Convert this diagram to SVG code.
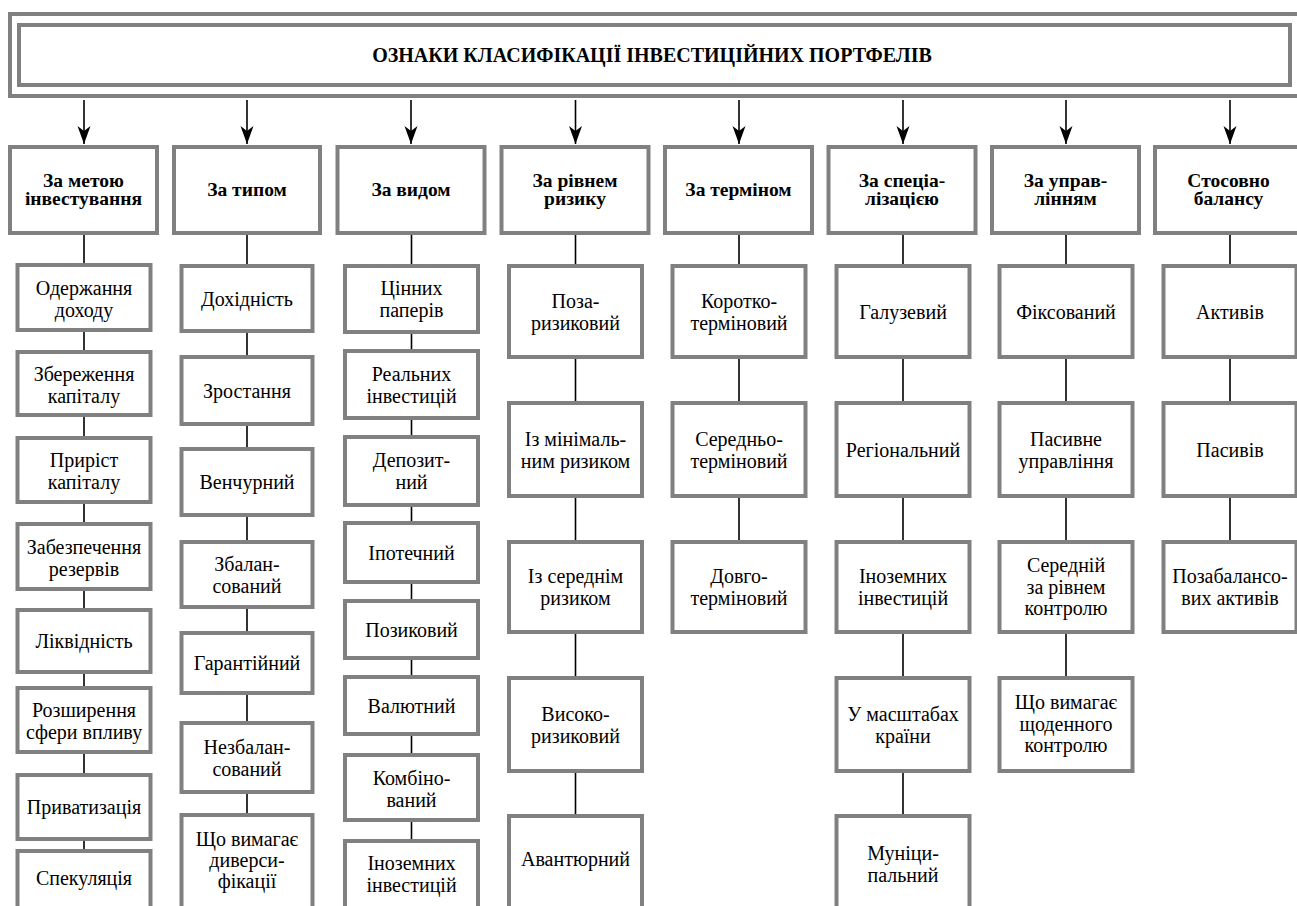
<svg xmlns="http://www.w3.org/2000/svg" width="1297" height="906" viewBox="0 0 1297 906">
<style>
.frame{fill:none;stroke:#808080;stroke-width:4}
.hb{fill:#fff;stroke:#808080;stroke-width:4}
.bx{fill:#fff;stroke:#808080;stroke-width:4}
.ht{font-weight:bold;font-size:19.5px;fill:#000;text-anchor:middle}
.tt{font-weight:bold;font-size:20px;fill:#000;text-anchor:middle}
.bt{font-size:20px;fill:#000;text-anchor:middle}
.ln{stroke:#000;stroke-width:1.6;fill:none}
.ar{stroke:#000;stroke-width:1.6;fill:none;marker-end:url(#ah)}
</style>
<defs>
<marker id="ah" markerUnits="userSpaceOnUse" markerWidth="20" markerHeight="14" refX="18" refY="6.5" orient="auto">
<path d="M0,0 L18,6.5 L0,13 L5,6.5 Z" fill="#000"/>
</marker>
</defs>
<rect width="1297" height="906" fill="#fff"/>
<g font-family="Liberation Serif, DejaVu Serif, serif">
<g id="title">
<rect class="frame" x="10" y="14" width="1294" height="82"/>
<rect class="frame" x="19" y="25" width="1271" height="60"/>
<text class="tt" x="652" y="62">ОЗНАКИ КЛАСИФІКАЦІЇ ІНВЕСТИЦІЙНИХ ПОРТФЕЛІВ</text>
</g>
<g id="connectors">
<line class="ar" x1="84" y1="100" x2="84" y2="144"/>
<line class="ar" x1="247" y1="100" x2="247" y2="144"/>
<line class="ar" x1="411" y1="100" x2="411" y2="144"/>
<line class="ar" x1="575.5" y1="100" x2="575.5" y2="144"/>
<line class="ar" x1="739" y1="100" x2="739" y2="144"/>
<line class="ar" x1="903" y1="100" x2="903" y2="144"/>
<line class="ar" x1="1066" y1="100" x2="1066" y2="144"/>
<line class="ar" x1="1230" y1="100" x2="1230" y2="144"/>
<path class="ln" d="M84,233 V265 M84,330 V352 M84,415 V438 M84,502 V524 M84,589 V610 M84,672 V688 M84,752 V775 M84,839 V851"/>
<path class="ln" d="M247,233 V266 M247,331 V357 M247,424 V449 M247,515 V542 M247,607 V633 M247,693 V723 M247,792 V815"/>
<path class="ln" d="M411.5,233 V266 M411.5,332 V351 M411.5,418 V437 M411.5,505 V523 M411.5,582 V601 M411.5,658 V677 M411.5,734 V755 M411.5,820 V841"/>
<path class="ln" d="M575.5,233 V266 M575.5,357 V403 M575.5,496 V542 M575.5,632 V678 M575.5,771 V816"/>
<path class="ln" d="M739,233 V266 M739,357 V403 M739,496 V542"/>
<path class="ln" d="M903,233 V266 M903,357 V403 M903,496 V542 M903,632 V678 M903,771 V816"/>
<path class="ln" d="M1066,233 V266 M1066,357 V403 M1066,496 V542 M1066,632 V678"/>
<path class="ln" d="M1230,233 V266 M1230,357 V403 M1230,496 V542"/>
</g>
<g id="h1"><rect class="hb" x="10" y="147" width="147" height="86"/><text class="ht" x="83.5" y="186.5">За метою</text><text class="ht" x="83.5" y="205">інвестування</text></g>
<g id="h2"><rect class="hb" x="174" y="147" width="146" height="86"/><text class="ht" x="247" y="196">За типом</text></g>
<g id="h3"><rect class="hb" x="337.5" y="147" width="147" height="86"/><text class="ht" x="411" y="196">За видом</text></g>
<g id="h4"><rect class="hb" x="501.5" y="147" width="147" height="86"/><text class="ht" x="575" y="186.5">За рівнем</text><text class="ht" x="575" y="205">ризику</text></g>
<g id="h5"><rect class="hb" x="665" y="147" width="147" height="86"/><text class="ht" x="738.5" y="196">За терміном</text></g>
<g id="h6"><rect class="hb" x="828.5" y="147" width="147" height="86"/><text class="ht" x="902" y="186.5">За спеціа-</text><text class="ht" x="902" y="205">лізацією</text></g>
<g id="h7"><rect class="hb" x="992" y="147" width="147" height="86"/><text class="ht" x="1065.5" y="186.5">За управ-</text><text class="ht" x="1065.5" y="205">лінням</text></g>
<g id="h8"><rect class="hb" x="1155" y="147" width="147" height="86"/><text class="ht" x="1228.5" y="186.5">Стосовно</text><text class="ht" x="1228.5" y="205">балансу</text></g>

<g id="c1n1"><rect class="bx" x="17.5" y="265" width="133" height="65"/><text class="bt" x="84" y="295">Одержання</text><text class="bt" x="84" y="317">доходу</text></g>
<g id="c1n2"><rect class="bx" x="17.5" y="352" width="133" height="63"/><text class="bt" x="84" y="381">Збереження</text><text class="bt" x="84" y="403">капіталу</text></g>
<g id="c1n3"><rect class="bx" x="17.5" y="438" width="133" height="64"/><text class="bt" x="84" y="467">Приріст</text><text class="bt" x="84" y="489">капіталу</text></g>
<g id="c1n4"><rect class="bx" x="17.5" y="524" width="133" height="65"/><text class="bt" x="84" y="553.5">Забезпечення</text><text class="bt" x="84" y="575.5">резервів</text></g>
<g id="c1n5"><rect class="bx" x="17.5" y="610" width="133" height="62"/><text class="bt" x="84" y="648">Ліквідність</text></g>
<g id="c1n6"><rect class="bx" x="17.5" y="688" width="133" height="64"/><text class="bt" x="84" y="717">Розширення</text><text class="bt" x="84" y="739">сфери впливу</text></g>
<g id="c1n7"><rect class="bx" x="17.5" y="775" width="133" height="64"/><text class="bt" x="84" y="814">Приватизація</text></g>
<g id="c1n8"><rect class="bx" x="17.5" y="851" width="133" height="70"/><text class="bt" x="84" y="885">Спекуляція</text></g>

<g id="c2n1"><rect class="bx" x="181.5" y="266" width="131" height="65"/><text class="bt" x="247" y="305.5">Дохідність</text></g>
<g id="c2n2"><rect class="bx" x="181.5" y="357" width="131" height="67"/><text class="bt" x="247" y="397.5">Зростання</text></g>
<g id="c2n3"><rect class="bx" x="181.5" y="449" width="131" height="66"/><text class="bt" x="247" y="489">Венчурний</text></g>
<g id="c2n4"><rect class="bx" x="181.5" y="542" width="131" height="65"/><text class="bt" x="247" y="570.5">Збалан-</text><text class="bt" x="247" y="592.5">сований</text></g>
<g id="c2n5"><rect class="bx" x="181.5" y="633" width="131" height="60"/><text class="bt" x="247" y="670">Гарантійний</text></g>
<g id="c2n6"><rect class="bx" x="181.5" y="723" width="131" height="69"/><text class="bt" x="247" y="753.5">Незбалан-</text><text class="bt" x="247" y="775.5">сований</text></g>
<g id="c2n7"><rect class="bx" x="181.5" y="815" width="131" height="100"/><text class="bt" x="247" y="846">Що вимагає</text><text class="bt" x="247" y="867">диверси-</text><text class="bt" x="247" y="888">фікації</text></g>

<g id="c3n1"><rect class="bx" x="345" y="266" width="133" height="66"/><text class="bt" x="411.5" y="295">Цінних</text><text class="bt" x="411.5" y="317">паперів</text></g>
<g id="c3n2"><rect class="bx" x="345" y="351" width="133" height="67"/><text class="bt" x="411.5" y="380.5">Реальних</text><text class="bt" x="411.5" y="402.5">інвестицій</text></g>
<g id="c3n3"><rect class="bx" x="345" y="437" width="133" height="68"/><text class="bt" x="411.5" y="467">Депозит-</text><text class="bt" x="411.5" y="489">ний</text></g>
<g id="c3n4"><rect class="bx" x="345" y="523" width="133" height="59"/><text class="bt" x="411.5" y="559.5">Іпотечний</text></g>
<g id="c3n5"><rect class="bx" x="345" y="601" width="133" height="57"/><text class="bt" x="411.5" y="636.5">Позиковий</text></g>
<g id="c3n6"><rect class="bx" x="345" y="677" width="133" height="57"/><text class="bt" x="411.5" y="712.5">Валютний</text></g>
<g id="c3n7"><rect class="bx" x="345" y="755" width="133" height="65"/><text class="bt" x="411.5" y="784.5">Комбіно-</text><text class="bt" x="411.5" y="806.5">ваний</text></g>
<g id="c3n8"><rect class="bx" x="345" y="841" width="133" height="75"/><text class="bt" x="411.5" y="870">Іноземних</text><text class="bt" x="411.5" y="892">інвестицій</text></g>

<g id="c4n1"><rect class="bx" x="509" y="266" width="133" height="91"/><text class="bt" x="575.5" y="307.5">Поза-</text><text class="bt" x="575.5" y="329.5">ризиковий</text></g>
<g id="c4n2"><rect class="bx" x="509" y="403" width="133" height="93"/><text class="bt" x="575.5" y="445.5">Із мінімаль-</text><text class="bt" x="575.5" y="467.5">ним ризиком</text></g>
<g id="c4n3"><rect class="bx" x="509" y="542" width="133" height="90"/><text class="bt" x="575.5" y="583">Із середнім</text><text class="bt" x="575.5" y="605">ризиком</text></g>
<g id="c4n4"><rect class="bx" x="509" y="678" width="133" height="93"/><text class="bt" x="575.5" y="720.5">Високо-</text><text class="bt" x="575.5" y="742.5">ризиковий</text></g>
<g id="c4n5"><rect class="bx" x="509" y="816" width="133" height="100"/><text class="bt" x="575.5" y="866">Авантюрний</text></g>

<g id="c5n1"><rect class="bx" x="672.5" y="266" width="133" height="91"/><text class="bt" x="739" y="307.5">Коротко-</text><text class="bt" x="739" y="329.5">терміновий</text></g>
<g id="c5n2"><rect class="bx" x="672.5" y="403" width="133" height="93"/><text class="bt" x="739" y="445.5">Середньо-</text><text class="bt" x="739" y="467.5">терміновий</text></g>
<g id="c5n3"><rect class="bx" x="672.5" y="542" width="133" height="90"/><text class="bt" x="739" y="583">Довго-</text><text class="bt" x="739" y="605">терміновий</text></g>

<g id="c6n1"><rect class="bx" x="836.5" y="266" width="133" height="91"/><text class="bt" x="903" y="318.5">Галузевий</text></g>
<g id="c6n2"><rect class="bx" x="836.5" y="403" width="133" height="93"/><text class="bt" x="903" y="456.5">Регіональний</text></g>
<g id="c6n3"><rect class="bx" x="836.5" y="542" width="133" height="90"/><text class="bt" x="903" y="583">Іноземних</text><text class="bt" x="903" y="605">інвестицій</text></g>
<g id="c6n4"><rect class="bx" x="836.5" y="678" width="133" height="93"/><text class="bt" x="903" y="720.5">У масштабах</text><text class="bt" x="903" y="742.5">країни</text></g>
<g id="c6n5"><rect class="bx" x="836.5" y="816" width="133" height="100"/><text class="bt" x="903" y="860">Муніци-</text><text class="bt" x="903" y="882">пальний</text></g>

<g id="c7n1"><rect class="bx" x="999.5" y="266" width="133" height="91"/><text class="bt" x="1066" y="318.5">Фіксований</text></g>
<g id="c7n2"><rect class="bx" x="999.5" y="403" width="133" height="93"/><text class="bt" x="1066" y="445.5">Пасивне</text><text class="bt" x="1066" y="467.5">управління</text></g>
<g id="c7n3"><rect class="bx" x="999.5" y="542" width="133" height="90"/><text class="bt" x="1066" y="572">Середній</text><text class="bt" x="1066" y="593.5">за рівнем</text><text class="bt" x="1066" y="615">контролю</text></g>
<g id="c7n4"><rect class="bx" x="999.5" y="678" width="133" height="93"/><text class="bt" x="1066" y="709">Що вимагає</text><text class="bt" x="1066" y="730.5">щоденного</text><text class="bt" x="1066" y="752">контролю</text></g>

<g id="c8n1"><rect class="bx" x="1163.5" y="266" width="133" height="91"/><text class="bt" x="1230" y="318.5">Активів</text></g>
<g id="c8n2"><rect class="bx" x="1163.5" y="403" width="133" height="93"/><text class="bt" x="1230" y="456.5">Пасивів</text></g>
<g id="c8n3"><rect class="bx" x="1163.5" y="542" width="133" height="90"/><text class="bt" x="1230" y="583">Позабалансо-</text><text class="bt" x="1230" y="605">вих активів</text></g>
</g>
</svg>
